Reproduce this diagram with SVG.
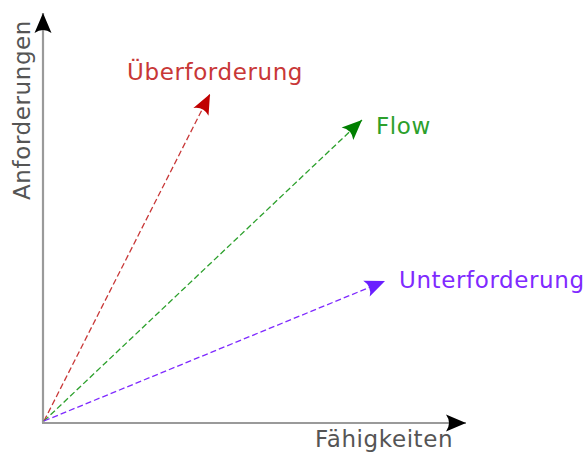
<svg xmlns="http://www.w3.org/2000/svg" width="587" height="454" viewBox="0 0 587 454">
<style>
.ax{stroke:#9a9a9a;stroke-width:2.2;fill:none}
.ln{stroke-width:1.3;stroke-dasharray:6,3;fill:none}
.lbl{font-family:"DejaVu Sans",sans-serif;font-size:23px;letter-spacing:0.6px}
</style>
<defs>
<marker id="mk" viewBox="-21 -9 23 18" markerWidth="23" markerHeight="18" refX="0" refY="0" orient="auto" markerUnits="userSpaceOnUse"><path d="M0,0 L-20,-8.5 Q-14,0 -20,8.5 Z" fill="#000"/></marker>
<marker id="mr" viewBox="-21 -9 23 18" markerWidth="23" markerHeight="18" refX="0" refY="0" orient="auto" markerUnits="userSpaceOnUse"><path d="M0,0 L-20,-8.5 Q-14,0 -20,8.5 Z" fill="#c00000"/></marker>
<marker id="mg" viewBox="-21 -9 23 18" markerWidth="23" markerHeight="18" refX="0" refY="0" orient="auto" markerUnits="userSpaceOnUse"><path d="M0,0 L-20,-8.5 Q-14,0 -20,8.5 Z" fill="#007f00"/></marker>
<marker id="mp" viewBox="-21 -9 23 18" markerWidth="23" markerHeight="18" refX="0" refY="0" orient="auto" markerUnits="userSpaceOnUse"><path d="M0,0 L-20,-8.5 Q-14,0 -20,8.5 Z" fill="#6a1fff"/></marker>
</defs>
<g id="connectors">
<line class="ax" x1="43" y1="423" x2="43" y2="13" marker-end="url(#mk)"/>
<line class="ax" x1="42" y1="423" x2="466" y2="423" marker-end="url(#mk)"/>
<line class="ln" stroke="#c83737" x1="44" y1="421" x2="210" y2="94" marker-end="url(#mr)"/>
<line class="ln" stroke="#2ca02c" x1="44" y1="421" x2="362" y2="120" marker-end="url(#mg)"/>
<line class="ln" stroke="#7f2aff" x1="44" y1="421" x2="385" y2="281" marker-end="url(#mp)"/>
</g>
<g id="label-ueberforderung"><text class="lbl" x="127" y="80" fill="#c83737">Überforderung</text></g>
<g id="label-flow"><text class="lbl" x="376" y="134" fill="#2ca02c">Flow</text></g>
<g id="label-unterforderung"><text class="lbl" x="399" y="288" fill="#7f2aff">Unterforderung</text></g>
<g id="label-faehigkeiten"><text class="lbl" x="315" y="447" fill="#555">Fähigkeiten</text></g>
<g id="label-anforderungen"><text class="lbl" transform="translate(30,200) rotate(-90)" fill="#555">Anforderungen</text></g>
</svg>
